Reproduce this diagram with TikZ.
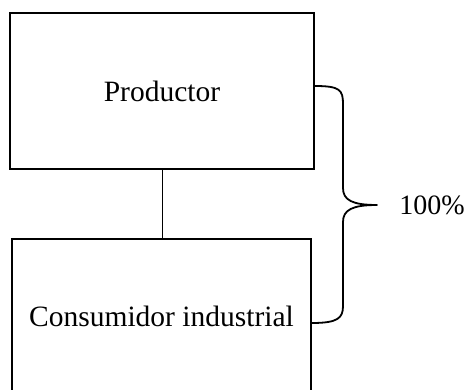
\documentclass[tikz,border=0pt]{standalone}
\usepackage{fontspec}
\setmainfont{Liberation Serif}
\usetikzlibrary{positioning}
\begin{document}
\begin{tikzpicture}[x=1pt,y=-1pt,
    caja/.style={draw, line width=1.6pt, inner sep=0pt, font=\fontsize{29.5}{34}\selectfont},
    llave/.style={line width=1.8pt, line join=round, line cap=round}]
  \useasboundingbox (0,0) rectangle (469,390);
  \node[caja, minimum width=304pt, minimum height=156pt] (prod) at (162,91) {Productor};
  \node[caja, minimum width=299pt, minimum height=154pt] (cons) at (161.5,316) {Consumidor industrial};
  \draw[line width=1pt] (prod.south) -- (prod.south |- cons.north);
  % llave
  \coordinate (b1) at (315,86);
  \coordinate (tip) at (377,205);
  \coordinate (b2) at (312,323);
  \draw[llave] (b1) .. controls (340,86) and (343,90) .. (343,104) -- (343,188)
    .. controls (343,200) and (352,205) .. (tip)
    .. controls (352,205) and (343,210) .. (343,222) -- (343,306)
    .. controls (343,318) and (338,323) .. (b2);
  \node[font=\fontsize{28}{34}\selectfont] (pct) at (432,205) {100\%};
\end{tikzpicture}
\end{document}
